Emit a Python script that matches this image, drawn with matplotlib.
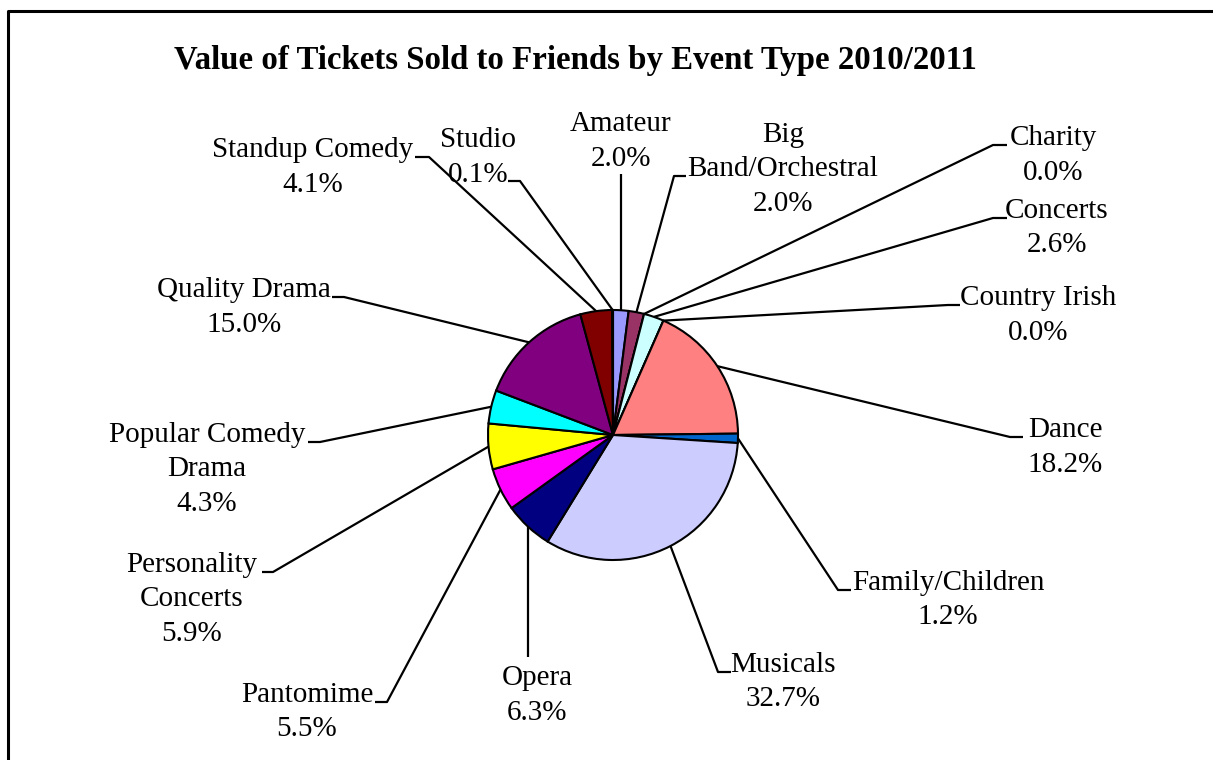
import matplotlib
matplotlib.use("Agg")
import matplotlib.pyplot as plt
import numpy as np

# data
categories = ["Amateur", "Big\nBand/Orchestral", "Charity", "Concerts", "Country Irish",
              "Dance", "Family/Children", "Musicals", "Opera", "Pantomime",
              "Personality\nConcerts", "Popular Comedy\nDrama", "Quality Drama",
              "Standup Comedy", "Studio"]
shares = [2.0, 2.0, 0.0, 2.6, 0.0, 18.2, 1.2, 32.7, 6.3, 5.5, 5.9, 4.3, 15.0, 4.1, 0.1]
colors = ["#9999FF", "#993366", "#FFFFCC", "#CCFFFF", "#660066", "#FF8080", "#0066CC",
          "#CCCCFF", "#000080", "#FF00FF", "#FFFF00", "#00FFFF", "#800080", "#800000",
          "#008080"]
title = "Value of Tickets Sold to Friends by Event Type 2010/2011"

# layout (pixel coords, y measured from the top)
W, H = 1213, 760
center = (613, 435)
radius = 125
text_x = [621, 783, 1053, 1057, 1038, 1065, 948, 783, 537, 307, 192, 207, 244, 313, 478]
first_base = [131, 142, 145, 218, 305, 437, 590, 672, 685, 702, 572, 442, 297, 157, 147]
elbows = [(None, 174), (674, 176), (993, 145), (993, 218), (948, 305), (1010, 437),
          (838, 590), (718, 672), (None, 657), (387, 702), (273, 572), (320, 442),
          (344, 297), (429, 157), (520, 181)]
stub_ends = [None, 686, 1007, 1007, 960, 1023, 851, 731, None, 375, 262, 308, 332, 415, 508]
pitch = 34.5

font = "Liberation Serif"


def fy(y):
    return H - y


fig = plt.figure(figsize=(W / 100, H / 100), dpi=100)
ax = fig.add_axes([0, 0, 1, 1])

wedges, _ = ax.pie(shares, colors=colors, startangle=90, counterclock=False,
                   center=(center[0], fy(center[1])), radius=radius,
                   wedgeprops=dict(edgecolor="black", linewidth=1.5))

ax.set_xlim(0, W)
ax.set_ylim(0, H)
ax.set_aspect("equal")
ax.axis("off")

# chart frame (only left and top edges fall inside the picture)
ax.plot([7.5, 7.5, W + 10], [fy(H + 10), fy(10.5), fy(10.5)], color="black", lw=2.2,
        clip_on=False)

ax.text(575, fy(69), title, ha="center", va="baseline", fontsize=23.7,
        fontweight="bold", family=font)

for i, w in enumerate(wedges):
    mid = np.deg2rad((w.theta1 + w.theta2) / 2)
    ex = center[0] + radius * np.cos(mid)
    ey = fy(center[1]) + radius * np.sin(mid)
    kx, ky = elbows[i]
    if kx is None:
        kx = ex
    xs = [ex, kx]
    ys = [ey, fy(ky)]
    if stub_ends[i] is not None:
        xs.append(stub_ends[i])
        ys.append(fy(ky))
    ax.plot(xs, ys, color="black", lw=1.6, solid_capstyle="butt")

    lines = categories[i].split("\n") + [f"{shares[i]:.1f}%"]
    for j, line in enumerate(lines):
        ax.text(text_x[i], fy(first_base[i] + j * pitch), line, ha="center",
                va="baseline", fontsize=21, family=font)

fig.savefig("out.png", dpi=100, facecolor="white")
